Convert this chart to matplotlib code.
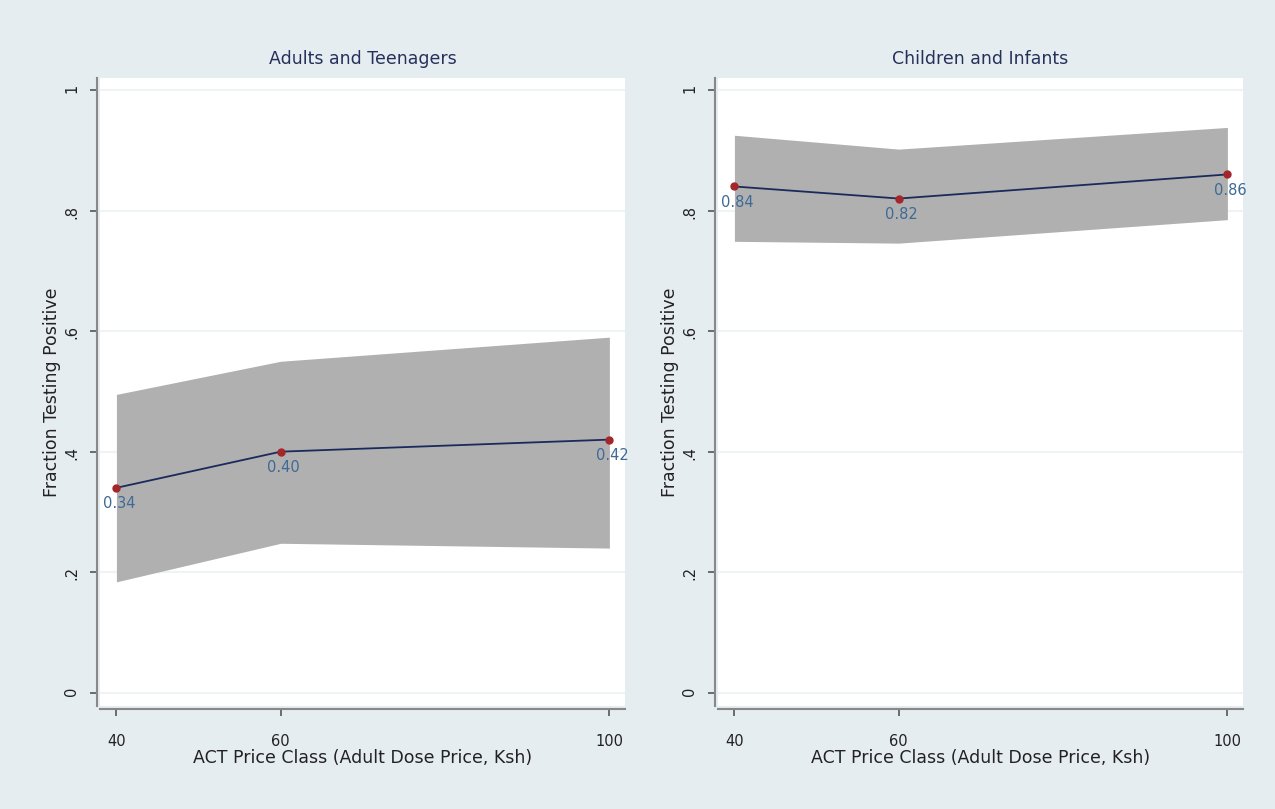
import matplotlib
matplotlib.use("Agg")
import matplotlib.pyplot as plt

prices = [40, 60, 100]
price_labels = ["40", "60", "100"]

adult_mean = [0.34, 0.40, 0.42]
adult_lo = [0.184, 0.248, 0.240]
adult_hi = [0.495, 0.550, 0.590]

child_mean = [0.84, 0.82, 0.86]
child_lo = [0.749, 0.746, 0.785]
child_hi = [0.925, 0.902, 0.938]

yticks = [0, 0.2, 0.4, 0.6, 0.8, 1.0]
ytick_labels = ["0", ".2", ".4", ".6", ".8", "1"]

bg = "#e6edf1"
navy = "#1a2a5c"
dotred = "#a3262b"
lblblue = "#3d6a96"

plt.rcParams['font.family'] = ['DejaVu Sans']

fig = plt.figure(figsize=(12.75, 8.09), dpi=100, facecolor=bg)
W, H = 1275, 809


def panel(left, title, mean, lo, hi):
	ax = fig.add_axes([left / W, 103 / H, 525 / W, 628 / H])
	ax.set_facecolor("white")
	ax.set_xlim(38.0, 101.9)
	ax.set_ylim(-0.022, 1.02)
	for y in yticks:
		ax.axhline(y, color="#eef3f5", lw=1.5, zorder=0)
	ax.fill_between(prices, lo, hi, color="#b0b0b0", lw=0, zorder=1)
	ax.plot(prices, mean, color=navy, lw=1.3, zorder=2)
	ax.plot(prices, mean, "o", color=dotred, ms=5, zorder=3)
	for x, y in zip(prices, mean):
		ax.annotate("%.2f" % y, (x, y), xytext=(2, -6), textcoords="offset points",
			ha="center", va="top", color=lblblue, fontsize=10.5)
	ax.set_xticks(prices)
	ax.set_xticklabels(price_labels)
	ax.set_yticks(yticks)
	ax.set_yticklabels(ytick_labels)
	ax.tick_params(axis="both", colors="#555555", labelcolor="#222222", labelsize=10.5,
		length=5, width=1.2, direction="out")
	ax.tick_params(axis="x", pad=13)
	ax.tick_params(axis="y", pad=8, labelrotation=90)
	for lab in ax.get_yticklabels():
		lab.set_verticalalignment("center")
	for s in ["top", "right"]:
		ax.spines[s].set_visible(False)
	for s in ["left", "bottom"]:
		ax.spines[s].set_color("#888888")
		ax.spines[s].set_linewidth(1.5)
		ax.spines[s].set_position(("outward", 2))
	ax.set_title(title, color="#25315a", fontsize=12.5, pad=10)
	ax.set_xlabel("ACT Price Class (Adult Dose Price, Ksh)", fontsize=12.5, color="#222222",
		labelpad=0)
	ax.set_ylabel("Fraction Testing Positive", fontsize=12.5, color="#222222", labelpad=2)
	return ax


panel(100, "Adults and Teenagers", adult_mean, adult_lo, adult_hi)
panel(718, "Children and Infants", child_mean, child_lo, child_hi)

fig.savefig("out.png", dpi=100, facecolor=bg)
